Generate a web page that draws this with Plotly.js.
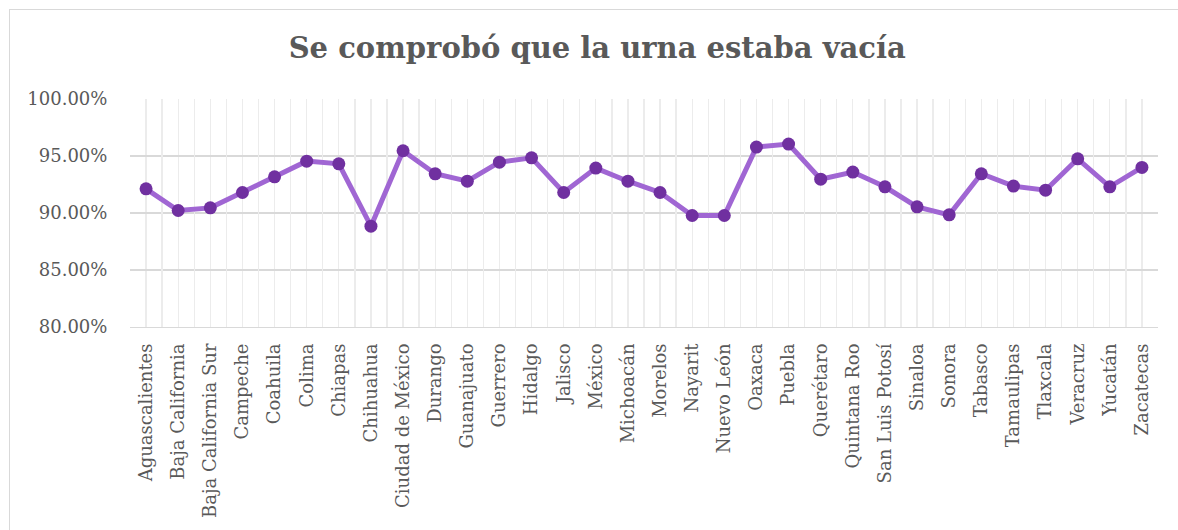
<!DOCTYPE html>
<html>
<head>
<meta charset="utf-8">
<script src="https://cdn.plot.ly/plotly-3.0.1.min.js"></script>
<style>
  html, body { margin: 0; padding: 0; background: #fff; overflow: hidden; }
  #chart { width: 1178px; height: 530px; }
  #frame { position: absolute; left: 9px; top: 9px; width: 1400px; height: 800px;
           border: 1px solid #d9d9d9; pointer-events: none; }
</style>
</head>
<body>
<div id="chart"></div>
<div id="frame"></div>
<script>
const titleText = "Se comprobó que la urna estaba vacía";
const estados = ["Aguascalientes", "Baja California", "Baja California Sur", "Campeche", "Coahuila",
  "Colima", "Chiapas", "Chihuahua", "Ciudad de México", "Durango", "Guanajuato", "Guerrero",
  "Hidalgo", "Jalisco", "México", "Michoacán", "Morelos", "Nayarit", "Nuevo León", "Oaxaca",
  "Puebla", "Querétaro", "Quintana Roo", "San Luis Potosí", "Sinaloa", "Sonora", "Tabasco",
  "Tamaulipas", "Tlaxcala", "Veracruz", "Yucatán", "Zacatecas"];
const porcentajes = [0.9212, 0.9022, 0.9045, 0.9180, 0.9317, 0.9455, 0.9431, 0.8884, 0.9546,
  0.9344, 0.9279, 0.9446, 0.9484, 0.9180, 0.9394, 0.9279, 0.9180, 0.8978, 0.8978, 0.9578,
  0.9605, 0.9297, 0.9359, 0.9230, 0.9054, 0.8984, 0.9344, 0.9236, 0.9200, 0.9475, 0.9230, 0.9400];
const yTicks = [0.80, 0.85, 0.90, 0.95, 1.00];

const font = "'DejaVu Serif', 'Liberation Serif', Georgia, serif";
const grey = "#595959";

const traces = [
  {
    x: estados, y: porcentajes, type: "scatter", mode: "lines+markers",
    line: { color: "#A066D3", width: 5 },
    marker: { color: "#7030A0", size: 13 },
    hoverinfo: "x+y", xaxis: "x", yaxis: "y"
  },
  {
    x: estados, y: porcentajes, type: "scatter", mode: "markers",
    marker: { opacity: 0 }, hoverinfo: "skip", showlegend: false,
    xaxis: "x2", yaxis: "y"
  }
];

const layout = {
  width: 1178, height: 530,
  margin: { l: 130, r: 20, t: 99, b: 203 },
  paper_bgcolor: "#ffffff", plot_bgcolor: "#ffffff",
  showlegend: false,
  title: {
    text: "<b>" + titleText + "</b>",
    font: { family: font, size: 29, color: grey },
    x: 0.507, xanchor: "center", y: 0.91, yanchor: "middle"
  },
  xaxis: {
    type: "category", categoryorder: "array", categoryarray: estados,
    range: [-0.5, estados.length - 0.5],
    showgrid: true, gridcolor: "#ececec", gridwidth: 1.3,
    showline: true, linecolor: "#d9d9d9", linewidth: 1.3,
    ticks: "outside", ticklen: 8, tickcolor: "rgba(0,0,0,0)",
    tickangle: -90,
    tickfont: { family: font, size: 18, color: grey },
    zeroline: false, fixedrange: true
  },
  xaxis2: {
    type: "category", categoryorder: "array", categoryarray: estados,
    overlaying: "x", anchor: "y", matches: "x",
    range: [-0.5, estados.length - 0.5],
    tickson: "boundaries", showgrid: true, gridcolor: "#ececec", gridwidth: 1.3,
    showticklabels: false, ticks: "", showline: false, zeroline: false
  },
  yaxis: {
    range: [0.80, 1.00], tickvals: yTicks, tickformat: ".2%",
    showgrid: true, gridcolor: "#d9d9d9", gridwidth: 1.3,
    showline: false, zeroline: false,
    ticks: "outside", ticklen: 18, tickcolor: "rgba(0,0,0,0)",
    tickfont: { family: font, size: 18, color: grey },
    fixedrange: true
  }
};

Plotly.newPlot("chart", traces, layout, { displayModeBar: false, staticPlot: true });
</script>
</body>
</html>
